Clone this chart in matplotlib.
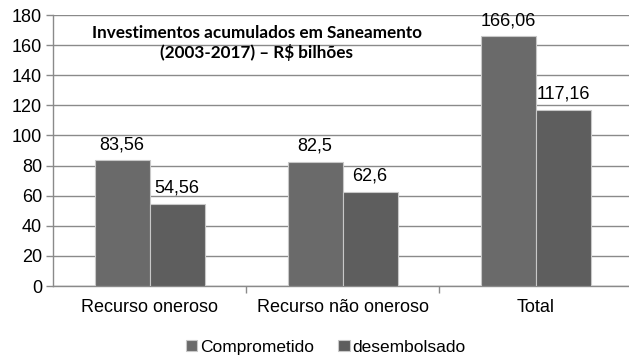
import matplotlib
matplotlib.use("Agg")
import matplotlib.pyplot as plt
import numpy as np

# Investimentos acumulados em Saneamento (2003-2017), R$ bilhões
categorias = ["Recurso oneroso", "Recurso não oneroso", "Total"]
comprometido = [83.56, 82.5, 166.06]
desembolsado = [54.56, 62.6, 117.16]
rotulos_comp = ["83,56", "82,5", "166,06"]
rotulos_desb = ["54,56", "62,6", "117,16"]

plt.rcParams["font.family"] = ["Liberation Sans", "DejaVu Sans"]

fig = plt.figure(figsize=(6.29, 3.58), dpi=100)
ax = fig.add_axes([0.0843, 0.2011, 0.9205, 0.757])

x = np.arange(len(categorias))
w = 0.285
b1 = ax.bar(x - w / 2, comprometido, w, color="#6a6a6a", edgecolor="#c8c8c8",
            linewidth=0.8, label="Comprometido", zorder=3)
b2 = ax.bar(x + w / 2, desembolsado, w, color="#5e5e5e", edgecolor="#c8c8c8",
            linewidth=0.8, label="desembolsado", zorder=3)

for rect, txt in zip(b1, rotulos_comp):
    ax.annotate(txt, (rect.get_x() + rect.get_width() / 2, rect.get_height()),
                xytext=(0, 5), textcoords="offset points",
                ha="center", va="bottom", fontsize=13, zorder=4)
for rect, txt in zip(b2, rotulos_desb):
    ax.annotate(txt, (rect.get_x() + rect.get_width() / 2, rect.get_height()),
                xytext=(0, 5), textcoords="offset points",
                ha="center", va="bottom", fontsize=13, zorder=4)

ax.set_xlim(-0.5, 2.5)
ax.set_ylim(0, 180)
ax.set_yticks(range(0, 181, 20))
ax.yaxis.grid(True, color="#8a8a8a", linewidth=1.0, zorder=0)
ax.set_axisbelow(True)

ax.set_xticks(x)
ax.set_xticklabels(categorias, fontsize=13)
ax.set_xticks([0.5, 1.5], minor=True)
ax.tick_params(axis="x", which="major", length=0, pad=9)
ax.tick_params(axis="x", which="minor", length=5, color="#8a8a8a", width=1.0)
ax.tick_params(axis="y", labelsize=13, length=5, color="#8a8a8a", width=1.0, pad=3)

for s in ["top", "right"]:
    ax.spines[s].set_visible(False)
for s in ["left", "bottom"]:
    ax.spines[s].set_color("#8a8a8a")
    ax.spines[s].set_linewidth(1.0)

ax.text(0.352, 0.934, "Investimentos acumulados em Saneamento",
        transform=ax.transAxes, ha="center", va="center",
        fontsize=12.3, fontweight="bold", family=["Lato", "DejaVu Sans"])
ax.text(0.352, 0.86, "(2003-2017) – R$ bilhões",
        transform=ax.transAxes, ha="center", va="center",
        fontsize=12.3, fontweight="bold", family=["Lato", "DejaVu Sans"])

fig.legend(handles=[b1, b2], loc="center", bbox_to_anchor=(0.518, 0.03),
           ncol=2, frameon=False, fontsize=12.5, handlelength=0.65,
           handleheight=0.65, handletextpad=0.15, columnspacing=1.4)

fig.savefig("out.png", dpi=100)
